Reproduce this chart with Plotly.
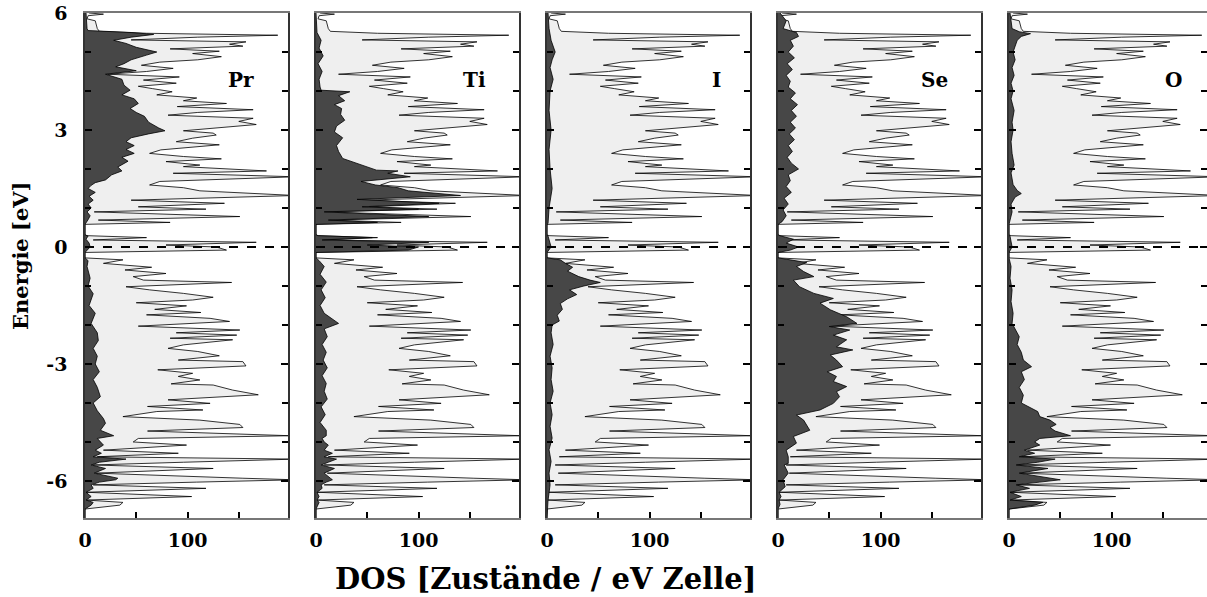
import plotly.graph_objects as go

# ---------------- data ----------------
panel_labels = ["Pr", "Ti", "I", "Se", "O"]
y_tick_vals = [6, 3, 0, -3, -6]
y_tick_text = ["6", "3", "0", "-3", "-6"]
x_tick_vals = [0, 100]
x_tick_text = ["0", "100"]
fermi_level = 0.0

E_total = [6.00, 5.97, 5.93, 5.85, 5.80, 5.70, 5.60, 5.53, 5.48, 5.43, 5.38, 5.31, 5.26, 5.20, 5.15,
           5.08, 5.02, 4.96, 4.88, 4.80, 4.74, 4.66, 4.58, 4.50, 4.43, 4.36, 4.28, 4.20, 4.12, 4.06,
           3.98, 3.90, 3.82, 3.75, 3.68, 3.60, 3.52, 3.45, 3.38, 3.30, 3.22, 3.14, 3.06, 2.98, 2.92,
           2.87, 2.79, 2.70, 2.62, 2.49, 2.40, 2.32, 2.26, 2.19, 2.10, 2.06, 1.95, 1.89, 1.80, 1.68,
           1.59, 1.52, 1.44, 1.37, 1.32, 1.20, 1.12, 1.03, 0.97, 0.90, 0.78, 0.69, 0.63, 0.58, 0.31,
           0.29, 0.24, 0.18, 0.12, 0.05, 0.00, -0.08, -0.12, -0.14, -0.28, -0.33, -0.42, -0.52, -0.59,
           -0.68, -0.76, -0.85, -0.91, -1.02, -1.10, -1.19, -1.29, -1.36, -1.43, -1.51, -1.60, -1.68,
           -1.74, -1.83, -1.91, -2.03, -2.13, -2.20, -2.26, -2.34, -2.38, -2.51, -2.60, -2.68, -2.79,
           -2.90, -2.94, -3.05, -3.15, -3.24, -3.32, -3.41, -3.51, -3.54, -3.67, -3.79, -3.92, -4.01,
           -4.09, -4.18, -4.22, -4.35, -4.44, -4.55, -4.63, -4.72, -4.84, -4.91, -5.00, -5.08, -5.21,
           -5.29, -5.38, -5.44, -5.52, -5.59, -5.68, -5.80, -5.93, -5.97, -6.03, -6.10, -6.19, -6.29,
           -6.40, -6.49, -6.55, -6.62, -6.72, -6.95]
DOS_total = [4, 18, 3, 2, 10, 11, 12, 14, 60, 188, 110, 45, 157, 141, 154,
             83, 131, 105, 133, 110, 73, 55, 86, 60, 22, 92, 57, 89, 52, 66,
             85, 70, 109, 96, 138, 90, 164, 110, 81, 164, 150, 167, 128, 96, 125,
             128, 105, 89, 131, 74, 63, 96, 133, 79, 112, 96, 177, 86, 205, 73,
             63, 96, 112, 165, 205, 45, 136, 52, 118, 9, 151, 13, 83, 0, 0,
             2, 60, 8, 167, 79, 128, 138, 8, 0, 0, 37, 18, 65, 39,
             79, 47, 57, 143, 40, 63, 96, 125, 105, 50, 99, 68, 113,
             60, 122, 141, 52, 151, 89, 148, 83, 144, 96, 81, 110, 131,
             91, 154, 157, 71, 105, 91, 112, 84, 125, 144, 169, 81, 122,
             61, 115, 70, 37, 112, 151, 154, 61, 200, 52, 47, 99, 18,
             91, 12, 205, 96, 8, 125, 11, 154, 205, 109, 8, 118, 1,
             104, 1, 37, 34, 0, 0]

E_Pr = [6.00, 5.60, 5.55, 5.50, 5.45, 5.38, 5.30, 5.22, 5.12, 5.00, 4.92, 4.80, 4.70, 4.62, 4.52,
        4.43, 4.30, 4.15, 4.02, 3.90, 3.80, 3.68, 3.55, 3.45, 3.35, 3.20, 3.05, 2.98, 2.90, 2.80,
        2.70, 2.60, 2.50, 2.40, 2.30, 2.20, 2.05, 1.95, 1.85, 1.72, 1.65, 1.58, 1.50, 1.40, 1.30,
        1.20, 1.10, 1.00, 0.90, 0.80, 0.70, 0.60, 0.58, 0.31, 0.28, 0.20, 0.10, 0.00, -0.10, -0.14,
        -0.28, -0.35, -0.50, -0.80, -1.00, -1.20, -1.50, -1.70, -1.96, -2.20, -2.40, -2.60, -2.80,
        -3.00, -3.20, -3.40, -3.60, -3.84, -4.00, -4.20, -4.40, -4.52, -4.70, -4.84, -4.91, -5.00,
        -5.08, -5.21, -5.29, -5.38, -5.44, -5.52, -5.59, -5.68, -5.80, -5.93, -5.97, -6.03, -6.10,
        -6.19, -6.29, -6.40, -6.49, -6.55, -6.62, -6.72, -6.95]
DOS_Pr = [1, 2, 3, 45, 67, 45, 28, 40, 50, 70, 60, 45, 38, 30, 50,
          20, 36, 38, 44, 36, 48, 52, 44, 50, 58, 62, 72, 78, 62, 45,
          40, 48, 40, 48, 36, 42, 32, 36, 26, 20, 10, 6, 3, 10, 4,
          8, 3, 6, 2, 5, 3, 1, 0, 0, 3, 1, 4, 5, 2, 0,
          0, 3, 2, 5, 3, 8, 4, 10, 6, 12, 13, 8, 12,
          10, 14, 8, 12, 15, 8, 12, 18, 20, 15, 28, 12, 15,
          18, 10, 16, 8, 40, 14, 6, 20, 9, 32, 30, 14, 6,
          8, 1, 6, 1, 8, 6, 0, 0]

E_Ti = [6.00, 5.50, 5.30, 5.10, 4.90, 4.70, 4.50, 4.30, 4.10, 4.02, 3.98, 3.88, 3.75, 3.65, 3.55,
        3.40, 3.25, 3.10, 2.95, 2.80, 2.60, 2.45, 2.27, 2.15, 1.97, 1.95, 1.89, 1.80, 1.68, 1.59,
        1.52, 1.44, 1.37, 1.32, 1.22, 1.12, 1.03, 0.97, 0.90, 0.78, 0.69, 0.63, 0.58, 0.31, 0.29,
        0.24, 0.18, 0.12, 0.05, 0.00, -0.08, -0.12, -0.14, -0.28, -0.35, -0.50, -0.70, -0.90, -1.10,
        -1.30, -1.50, -1.70, -1.96, -2.10, -2.30, -2.50, -2.70, -2.90, -3.10, -3.30, -3.50, -3.70,
        -3.90, -4.10, -4.30, -4.50, -4.70, -4.84, -4.91, -5.00, -5.08, -5.21, -5.29, -5.38, -5.44,
        -5.52, -5.59, -5.68, -5.80, -5.93, -5.97, -6.03, -6.10, -6.19, -6.29, -6.40, -6.49, -6.55,
        -6.72, -6.95]
DOS_Ti = [0, 1, 5, 3, 7, 2, 6, 3, 4, 5, 33, 22, 28, 18, 25,
          24, 28, 20, 18, 26, 20, 22, 26, 40, 59, 80, 70, 92, 44, 58,
          80, 90, 120, 141, 40, 120, 45, 100, 8, 110, 12, 60, 0, 0, 2,
          55, 6, 110, 50, 100, 90, 6, 0, 0, 3, 8, 4, 10, 5,
          9, 4, 8, 22, 8, 11, 6, 10, 7, 11, 6, 10, 8,
          11, 5, 9, 4, 10, 10, 6, 8, 12, 8, 16, 8, 20,
          12, 5, 18, 8, 14, 16, 10, 5, 6, 1, 3, 1, 3,
          0, 0]

E_I = [6.00, 5.60, 5.30, 5.00, 4.80, 4.60, 4.30, 4.00, 3.50, 3.00, 2.50, 2.00, 1.50, 1.00, 0.60,
       0.58, 0.31, 0.28, 0.00, -0.12, -0.14, -0.28, -0.33, -0.42, -0.52, -0.62, -0.76, -0.85, -0.91,
       -1.00, -1.10, -1.22, -1.33, -1.45, -1.60, -1.75, -1.90, -2.00, -2.20, -2.50, -2.80, -3.10,
       -3.40, -3.70, -4.00, -4.30, -4.60, -4.90, -5.20, -5.50, -5.80, -6.10, -6.50, -6.95]
DOS_I = [1, 2, 4, 8, 5, 3, 6, 3, 2, 4, 2, 3, 5, 2, 1,
         0, 0, 1, 4, 1, 0, 0, 13, 18, 25, 20, 31, 42, 52,
         36, 22, 29, 20, 13, 15, 10, 12, 5, 4, 6, 3, 5,
         4, 6, 3, 5, 3, 5, 2, 4, 2, 3, 1, 0]

E_Se = [6.00, 5.80, 5.60, 5.50, 5.40, 5.30, 5.15, 5.00, 4.85, 4.70, 4.55, 4.40, 4.25, 4.10, 3.95,
        3.80, 3.65, 3.50, 3.35, 3.20, 3.05, 2.90, 2.75, 2.60, 2.45, 2.30, 2.15, 2.00, 1.85, 1.70,
        1.55, 1.40, 1.25, 1.10, 0.95, 0.80, 0.65, 0.58, 0.31, 0.28, 0.20, 0.10, 0.00, -0.08, -0.14,
        -0.28, -0.33, -0.40, -0.50, -0.63, -0.76, -0.85, -1.02, -1.19, -1.32, -1.44, -1.61, -1.79,
        -1.96, -2.04, -2.13, -2.26, -2.38, -2.56, -2.64, -2.77, -2.90, -3.07, -3.20, -3.32, -3.45,
        -3.58, -3.71, -3.84, -4.01, -4.18, -4.31, -4.44, -4.70, -4.86, -5.03, -5.21, -5.38, -5.55,
        -5.59, -5.80, -5.97, -6.10, -6.15, -6.29, -6.40, -6.49, -6.60, -6.72, -6.95]
DOS_Se = [2, 8, 5, 18, 20, 12, 15, 10, 16, 9, 14, 8, 12, 10, 17,
          12, 19, 13, 18, 12, 17, 11, 16, 10, 14, 9, 13, 20, 10, 12,
          8, 13, 6, 10, 5, 8, 4, 0, 0, 3, 15, 8, 20, 12, 0,
          0, 12, 28, 18, 25, 35, 15, 21, 35, 54, 41, 51, 67,
          77, 50, 70, 54, 67, 57, 73, 51, 57, 63, 48, 57, 54,
          67, 57, 60, 54, 41, 18, 25, 31, 15, 18, 8, 10, 10,
          6, 10, 5, 6, 7, 1, 3, 1, 2, 0, 0]

E_O = [6.00, 5.60, 5.52, 5.47, 5.40, 5.30, 5.15, 5.00, 4.80, 4.60, 4.40, 4.20, 4.00, 3.80, 3.50,
       3.20, 3.00, 2.70, 2.40, 2.10, 1.90, 1.60, 1.45, 1.37, 1.28, 1.10, 0.90, 0.70, 0.58, 0.31,
       0.28, 0.00, -0.12, -0.14, -0.28, -0.50, -0.80, -1.10, -1.40, -1.70, -1.96, -2.10, -2.30,
       -2.50, -2.70, -2.90, -3.07, -3.20, -3.40, -3.60, -3.80, -4.00, -4.10, -4.22, -4.35, -4.44,
       -4.55, -4.63, -4.72, -4.84, -4.91, -5.00, -5.08, -5.21, -5.29, -5.38, -5.44, -5.52, -5.59,
       -5.68, -5.80, -5.93, -5.97, -6.03, -6.10, -6.19, -6.29, -6.40, -6.49, -6.55, -6.62, -6.72,
       -6.95]
DOS_O = [1, 3, 10, 21, 12, 8, 6, 4, 6, 3, 5, 2, 4, 2, 5,
         3, 4, 2, 3, 5, 2, 4, 8, 12, 6, 2, 3, 1, 0, 0,
         1, 3, 1, 0, 0, 2, 1, 3, 2, 4, 3, 6, 10,
         8, 12, 14, 22, 12, 15, 10, 14, 12, 20, 28, 30, 40,
         46, 40, 45, 60, 30, 25, 30, 15, 25, 10, 45, 28, 7,
         38, 10, 40, 50, 30, 7, 20, 1, 12, 1, 33, 25, 0,
         0]

partials = [(E_Pr, DOS_Pr), (E_Ti, DOS_Ti), (E_I, DOS_I), (E_Se, DOS_Se), (E_O, DOS_O)]

# ---------------- styling / layout ----------------
W, H = 1207, 597
FONT = "DejaVu Serif"
panel_left_px = [85, 316, 547, 778, 1009]
panel_width_px = 203
px_per_unit = 203 / 198.0
y_top_px, y_bot_px = 13, 518
y_range = [-6.95, 6.0]
label_pos = [(152, 4.28), (155, 4.28), (165, 4.28), (153, 4.28), (160, 4.28)]

fig = go.Figure()
layout = dict(
    width=W, height=H, margin=dict(l=0, r=0, t=0, b=0, autoexpand=False),
    paper_bgcolor="white", plot_bgcolor="white", showlegend=False,
    font=dict(family=FONT, color="black"),
)
annotations = []
shapes = []

for i, (lab, (E_p, D_p)) in enumerate(zip(panel_labels, partials)):
    n = "" if i == 0 else str(i + 1)
    xa, ya = "x" + n, "y" + n
    fig.add_trace(go.Scatter(x=DOS_total, y=E_total, xaxis=xa, yaxis=ya, mode="lines",
                             fill="tozerox", fillcolor="#efefef",
                             line=dict(color="black", width=0.8), hoverinfo="skip"))
    fig.add_trace(go.Scatter(x=D_p, y=E_p, xaxis=xa, yaxis=ya, mode="lines",
                             fill="tozerox", fillcolor="#474747",
                             line=dict(color="black", width=0.8), hoverinfo="skip"))
    left = panel_left_px[i]
    right = min(left + panel_width_px, W)
    xmax = (right - left) / px_per_unit
    layout["xaxis" + n] = dict(
        domain=[left / W, right / W], range=[0, xmax], anchor=ya, automargin=False,
        showgrid=False, zeroline=False, showline=True, mirror=True,
        linecolor="#777", linewidth=1.5,
        tickmode="array", tickvals=x_tick_vals, ticktext=x_tick_text,
        ticks="inside", ticklen=6, tickwidth=1.5, tickcolor="black",
        minor=dict(ticks="inside", dtick=50, tick0=0, ticklen=6, tickwidth=1.5, tickcolor="black"),
        tickfont=dict(family=FONT, size=19, weight="bold"), ticklabelstandoff=4,
    )
    layout["yaxis" + n] = dict(
        domain=[1 - y_bot_px / H, 1 - y_top_px / H], range=y_range, anchor=xa, automargin=False,
        showgrid=False, zeroline=False, showline=True, mirror="allticks",
        linecolor="#333", linewidth=1.5,
        tickmode="array", tickvals=y_tick_vals, ticktext=y_tick_text,
        ticks="inside", ticklen=7, tickwidth=1.5, tickcolor="black",
        minor=dict(ticks="inside", dtick=1, tick0=0, ticklen=6, tickwidth=1.5, tickcolor="black"),
        showticklabels=(i == 0),
        tickfont=dict(family=FONT, size=19, weight="bold"), ticklabelstandoff=12,
    )
    shapes.append(dict(type="line", xref=xa + " domain", yref=ya, x0=0, x1=1,
                       y0=fermi_level, y1=fermi_level,
                       line=dict(color="black", width=2, dash="dash"), layer="above"))
    lx, ly = label_pos[i]
    annotations.append(dict(text=lab, xref=xa, yref=ya, x=lx, y=ly, showarrow=False,
                            font=dict(family=FONT, size=20, weight="bold")))

annotations.append(dict(text="Energie [eV]", xref="paper", yref="paper",
                        x=20 / W, y=1 - 256 / H, xanchor="center", yanchor="middle",
                        textangle=-90, showarrow=False,
                        font=dict(family=FONT, size=21, weight="bold")))
annotations.append(dict(text="DOS [Zustände / eV Zelle]", xref="paper", yref="paper",
                        x=545 / W, y=1 - 579 / H, xanchor="center", yanchor="middle",
                        showarrow=False,
                        font=dict(family=FONT, size=29, weight="bold")))
layout["annotations"] = annotations
layout["shapes"] = shapes
fig.update_layout(**layout)
fig.write_html("out.html")
